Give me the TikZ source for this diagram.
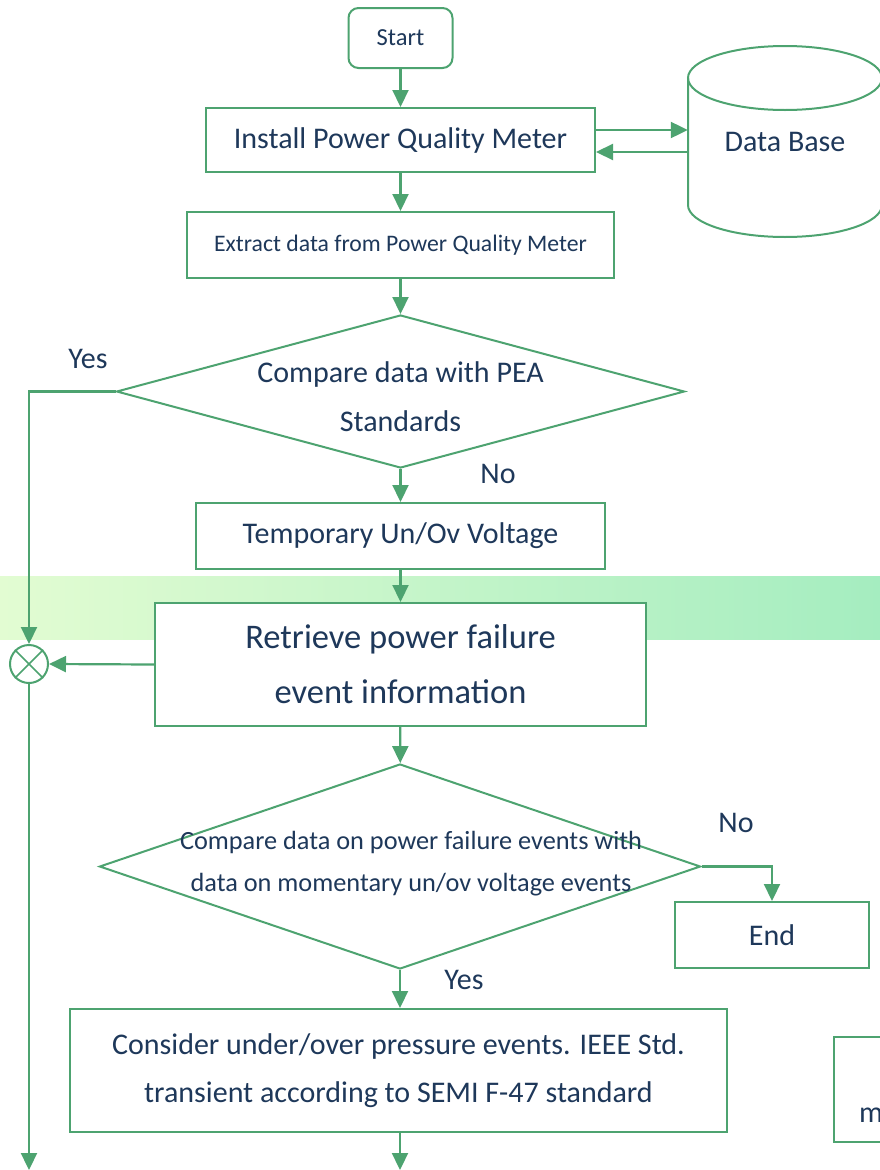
\documentclass[tikz,border=0pt]{standalone}
\usepackage{fontspec}
\setmainfont{Carlito}
\usetikzlibrary{shapes.geometric,arrows.meta,calc}
\definecolor{gline}{RGB}{77,163,112}
\definecolor{txt}{RGB}{30,56,90}
\definecolor{bandL}{RGB}{226,252,210}
\definecolor{bandR}{RGB}{165,237,192}
\begin{document}
\begin{tikzpicture}[x=1pt,y=-1pt,
  box/.style={draw=gline,line width=2pt,fill=white,inner sep=0pt,text=txt,align=center},
  arr/.style={draw=gline,line width=2.2pt,-{Triangle[length=17pt,width=16pt]}},
  ln/.style={draw=gline,line width=2.2pt},
  dia/.style={draw=gline,line width=2pt,diamond,inner sep=0pt,fill=white},
  lbl/.style={text=txt,inner sep=0pt,align=center},
  f30/.style={font=\fontsize{30}{48}\selectfont}]
\useasboundingbox (0,0) rectangle (880,1170);
\clip (0,0) rectangle (880,1170);
\shade[left color=bandL,right color=bandR] (0,576) rectangle (880,639);

% nodes
\node[box,rounded corners=10pt,minimum width=104pt,minimum height=60pt,font=\fontsize{24.5}{29}\selectfont] (start) at (400.5,38) {Start};
\node[box,f30,minimum width=389pt,minimum height=64pt] (inst) at (400.5,140) {Install Power Quality Meter};
\node[box,minimum width=427pt,minimum height=66pt,font=\fontsize{23.7}{28}\selectfont] (ext) at (400.5,245) {Extract data from Power Quality Meter};
\node[dia,minimum width=568pt,minimum height=153pt] (d1) at (400.5,391.5) {};
\node[lbl,font=\fontsize{30}{49}\selectfont] (d1t) at (400.5,397) {Compare data with PEA\\Standards};
\node[box,f30,minimum width=409pt,minimum height=66pt] (temp) at (400.5,536) {Temporary Un/Ov Voltage};
\node[box,minimum width=491pt,minimum height=123pt,font=\fontsize{34.5}{55}\selectfont] (ret) at (400.5,664.5) {Retrieve power failure\\event information};
\node[circle,draw=gline,line width=2pt,fill=white,minimum size=38pt,inner sep=0pt] (x) at (29,664) {};
\draw[gline,line width=1.5pt] (x.north east) -- (x.south west) (x.north west) -- (x.south east);
\node[dia,minimum width=601pt,minimum height=205pt] (d2) at (400,866.5) {};
\node[lbl,font=\fontsize{26.3}{42}\selectfont] (d2t) at (411,864) {Compare data on power failure events with\\data on momentary un/ov voltage events};
\node[box,f30,minimum width=194pt,minimum height=66pt] (end) at (772,935) {End};
\node[box,f30,minimum width=657pt,minimum height=123pt] (cons) at (398.5,1070.5) {Consider under/over pressure events. IEEE Std.\\transient according to SEMI F-47 standard};
\node[box,minimum width=80pt,minimum height=105pt] (part) at (874,1089.5) {};
\node[lbl,f30,anchor=base west] (partt) at (859,1122) {m};

% database cylinder
\draw[ln,line width=2pt] (688,78) -- (688,205) arc[start angle=180,end angle=360,x radius=97pt,y radius=32pt] -- (882,78);
\draw[ln,line width=2pt] (785,78) ellipse[x radius=97pt,y radius=32pt];
\node[lbl,f30,minimum width=194pt,minimum height=127pt] (db) at (785,141.5) {Data Base};

% labels
\node[lbl,f30] (yes1) at (88,359) {Yes};
\node[lbl,f30] (no1) at (498,474) {No};
\node[lbl,f30] (no2) at (736,823) {No};
\node[lbl,f30] (yes2) at (464,980) {Yes};

% connectors
\coordinate (i1) at ($(inst.east)+(0,-10)$);
\coordinate (i2) at ($(inst.east)+(0,12)$);
\coordinate (bl) at (29,1170);
\coordinate (br) at (400,1170);
\draw[arr] (start) -- (inst);
\draw[arr] (i1) -- (i1 -| db.west);
\draw[arr] (i2 -| db.west) -- (i2);
\draw[arr] (inst) -- (ext);
\draw[arr] (ext) -- (d1);
\draw[arr] (d1.south) -- (temp.north);
\draw[arr] (temp) -- (ret);
\draw[arr] (d1.west) -| (x.north);
\draw[arr] (ret.west) -- (x.east);
\draw[arr] (x.south) -- (bl);
\draw[arr] (ret) -- (d2);
\draw[arr] (d2.east) -| (end.north);
\draw[arr] (d2.south) -- (d2.south |- cons.north);
\draw[arr] (cons.south -| br) -- (br);
\end{tikzpicture}
\end{document}
